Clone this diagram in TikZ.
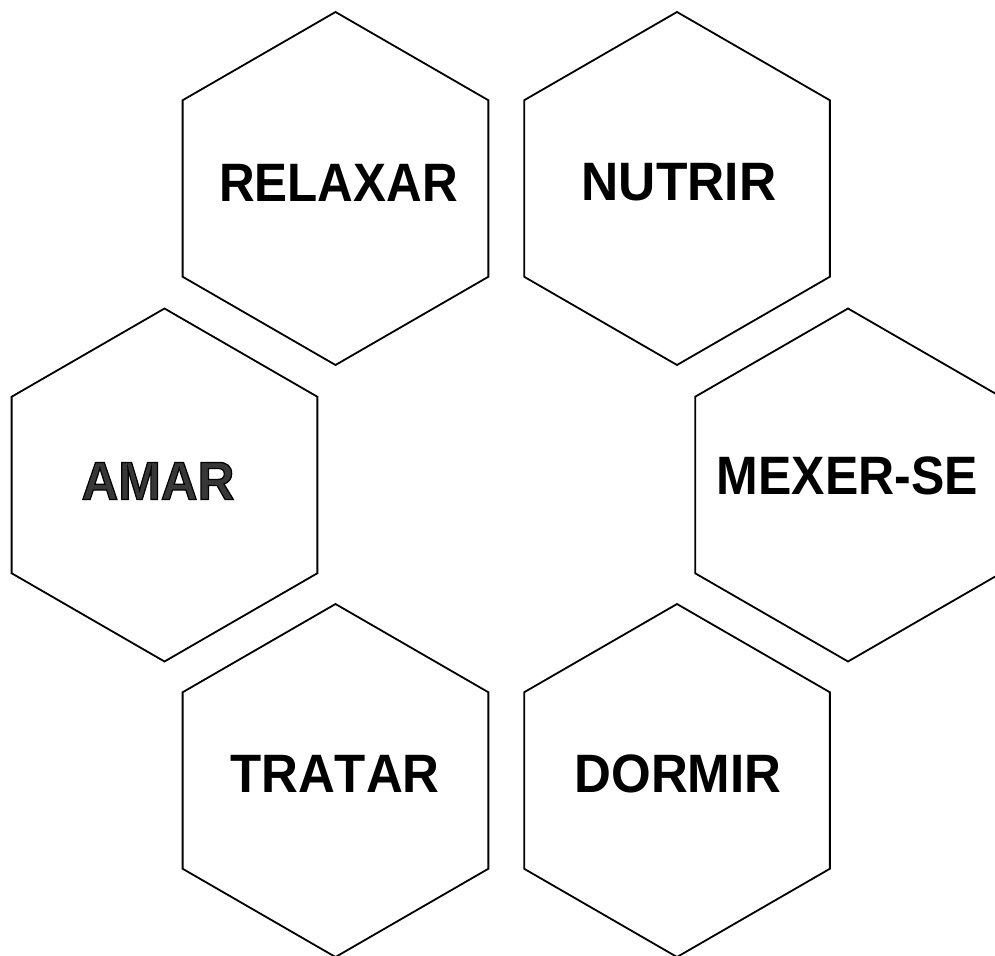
\documentclass[tikz,border=0pt]{standalone}
\usepackage{fontspec}
\setmainfont{Liberation Sans}[Kerning=Off]
\usetikzlibrary{shapes.geometric}
\definecolor{amargray}{RGB}{55,55,55}
\tikzset{
  hexa/.style={draw=black, line width=1.8pt, regular polygon, regular polygon sides=6,
    shape border rotate=30, minimum size=353pt, inner sep=0pt, outer sep=0pt},
  lbl/.style={font=\fontsize{51}{56}\selectfont\bfseries, inner sep=0pt, yscale=1.06, transform shape}
}
\begin{document}
\begin{tikzpicture}[x=1pt,y=-1pt]
\useasboundingbox (0,0) rectangle (995,955);
\clip (0,0) rectangle (995,955);
\node[hexa] (h1) at (335.5,188.5) {};
\node[hexa] (h2) at (677,188.5) {};
\node[hexa] (h3) at (164.5,485) {};
\node[hexa] (h4) at (848,485) {};
\node[hexa] (h5) at (335.5,780.5) {};
\node[hexa] (h6) at (677,780.5) {};
\node[lbl, xscale=0.968] (t1) at (338.5,182.5) {RELAXAR};
\node[lbl, xscale=1.01] (t2) at (679,182.5) {NUTRIR};
\node[lbl, text=amargray] (t3) at (158,481) {\special{pdf:literal 2 Tr 0 0 0 RG 1.2 w}AMAR\special{pdf:literal 0 Tr}};
\node[lbl, xscale=0.98] (t4) at (847.5,476) {MEXER-SE};
\node[lbl] (t5) at (335,774) {TRATAR};
\node[lbl] (t6) at (678,774) {DORMIR};
\end{tikzpicture}
\end{document}
